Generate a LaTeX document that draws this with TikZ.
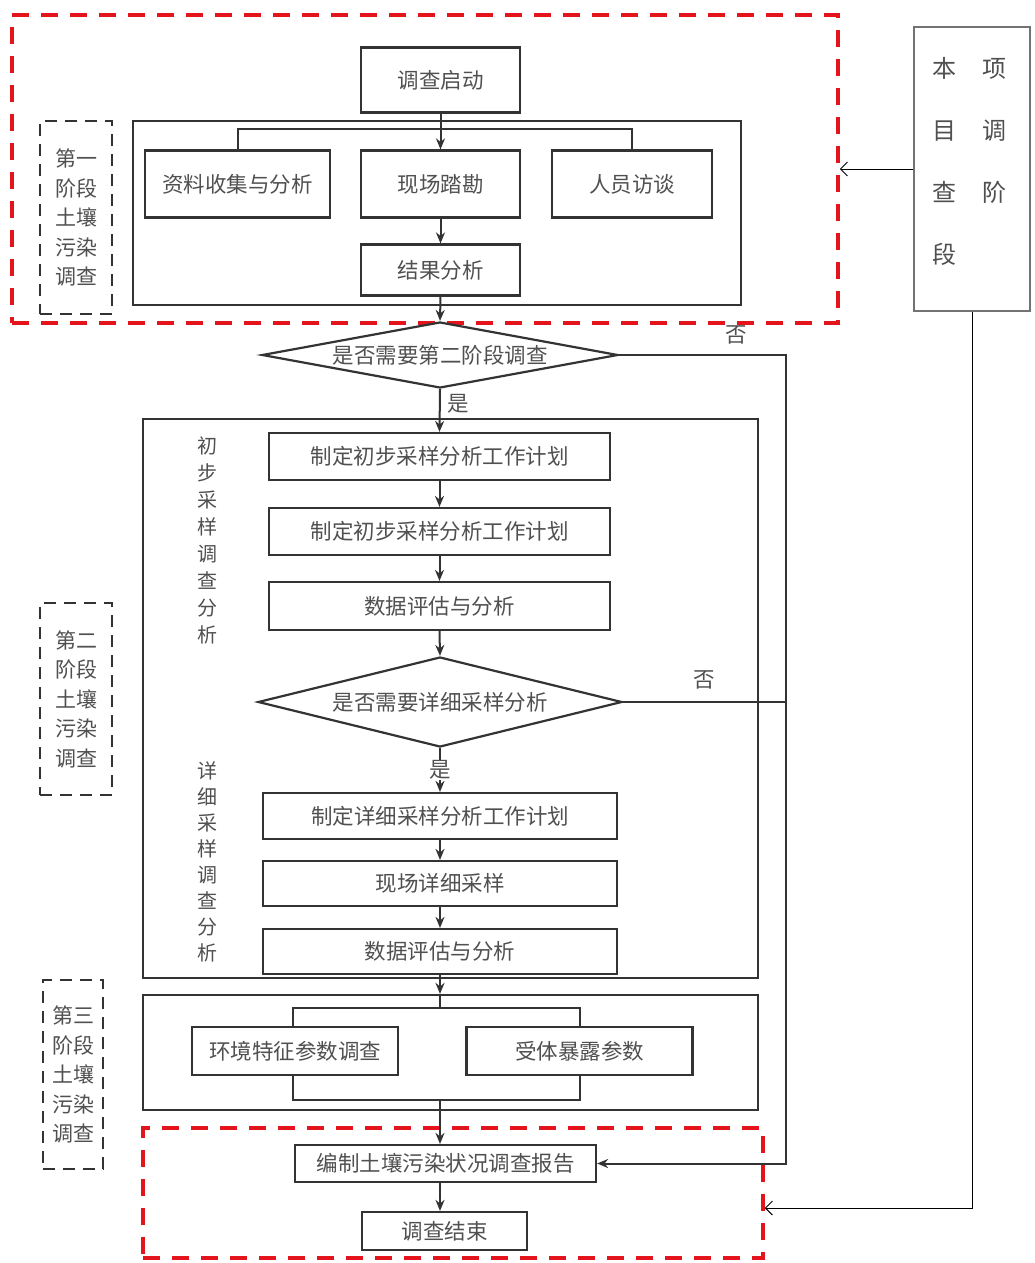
\documentclass[tikz,border=0pt]{standalone}
\usepackage{fontspec}
\setmainfont{Noto Sans CJK SC}
\usetikzlibrary{arrows.meta,shapes.geometric}
\definecolor{linec}{HTML}{333333}
\definecolor{txtc}{HTML}{505050}
\definecolor{redc}{HTML}{E3141B}
\newcommand\boxfont{\fontsize{21.5}{25}\selectfont}
\newcommand\labfont{\fontsize{21}{29.5}\selectfont}
\begin{document}
\begin{tikzpicture}[x=1pt,y=-1pt,
  fbox/.style={draw=linec, line width=2.2pt, fill=white, inner sep=0pt, text=txtc, font=\boxfont},
  framebox/.style={draw=linec, line width=2.2pt, inner sep=0pt},
  reddash/.style={draw=redc, line width=3.5pt, dash pattern=on 17pt off 12pt, inner sep=0pt},
  graydash/.style={draw=linec, line width=2.5pt, dash pattern=on 12pt off 8pt, inner sep=0pt, text=txtc, font=\labfont, align=center},
  dia/.style={diamond, draw=linec, line width=2.2pt, fill=white, inner sep=0pt, text=txtc, font=\boxfont},
  arr/.style={draw=linec, line width=2pt, -{Stealth[length=11pt,width=9pt]}},
  ln/.style={draw=linec, line width=2pt},
  thinarr/.style={draw=black, line width=1pt, -{Straight Barb[length=7pt,width=14pt]}},
  thinln/.style={draw=black, line width=1pt},
  yn/.style={text=txtc, font=\boxfont, inner sep=1pt},
  vtext/.style={text=txtc, align=center, inner sep=0pt}
]
\useasboundingbox[fill=white] (0,0) rectangle (1035,1263);

% red dashed regions
\node[reddash, minimum width=826pt, minimum height=308pt] (red1) at (425,169) {};
\node[reddash, minimum width=620pt, minimum height=130pt] (red2) at (453,1193) {};

% stage frames
\node[framebox, minimum width=608pt, minimum height=184pt] (s1) at (437,213) {};
\node[framebox, minimum width=615pt, minimum height=559pt] (s2) at (450.5,698.5) {};
\node[framebox, minimum width=615pt, minimum height=115pt] (s3) at (450.5,1052.5) {};

% stage labels
\node[graydash, minimum width=72pt, minimum height=193pt] (lab1) at (76,217.5) {第一\\阶段\\土壤\\污染\\调查};
\node[graydash, minimum width=72pt, minimum height=192pt] (lab2) at (76,699) {第二\\阶段\\土壤\\污染\\调查};
\node[graydash, minimum width=60pt, minimum height=189pt] (lab3) at (73,1074.5) {第三\\阶段\\土壤\\污染\\调查};

% vertical side texts
\node[vtext, font=\fontsize{20}{27}\selectfont] (vt1) at (207,540) {初\\步\\采\\样\\调\\查\\分\\析};
\node[vtext, font=\fontsize{20}{26.1}\selectfont] (vt2) at (207,862) {详\\细\\采\\样\\调\\查\\分\\析};

% stage 1
\node[fbox, minimum width=159pt, minimum height=65pt] (start) at (440.5,80) {调查启动};
\node[fbox, minimum width=185pt, minimum height=67pt] (ziliao) at (237.5,184) {资料收集与分析};
\node[fbox, minimum width=159pt, minimum height=67pt] (xianchang) at (440.5,184) {现场踏勘};
\node[fbox, minimum width=160pt, minimum height=67pt] (renyuan) at (632,184) {人员访谈};
\node[fbox, minimum width=159pt, minimum height=51pt] (jieguo) at (440.5,270) {结果分析};

% decision 1
\node[dia, minimum width=356pt, minimum height=66pt, aspect=5.4] (d1) at (440,355) {是否需要第二阶段调查};

% stage 2
\node[fbox, minimum width=341pt, minimum height=47pt] (A) at (439.5,456.5) {制定初步采样分析工作计划};
\node[fbox, minimum width=341pt, minimum height=47pt] (B) at (439.5,531.5) {制定初步采样分析工作计划};
\node[fbox, minimum width=341pt, minimum height=48pt] (C) at (439.5,606) {数据评估与分析};
\node[dia, minimum width=364pt, minimum height=90pt, aspect=4] (d2) at (440,702) {是否需要详细采样分析};
\node[fbox, minimum width=354pt, minimum height=46pt] (D) at (440,816) {制定详细采样分析工作计划};
\node[fbox, minimum width=354pt, minimum height=45pt] (E) at (440,883.5) {现场详细采样};
\node[fbox, minimum width=354pt, minimum height=45pt] (F) at (440,951.5) {数据评估与分析};

% stage 3
\node[framebox, minimum width=287pt, minimum height=92pt] (frame3) at (436.5,1054) {};
\node[fbox, minimum width=206pt, minimum height=48pt] (G) at (295,1051) {环境特征参数调查};
\node[fbox, minimum width=226pt, minimum height=48pt] (H) at (579.5,1051) {受体暴露参数};

% report
\node[fbox, minimum width=301pt, minimum height=37pt] (report) at (445.5,1163.5) {编制土壤污染状况调查报告};
\node[fbox, minimum width=165pt, minimum height=38pt] (endn) at (444.5,1231) {调查结束};

% project stage box
\node[draw=black!55, line width=1.5pt, minimum width=116pt, minimum height=284pt, inner sep=0pt] (proj) at (972,169) {};
\node[text=txtc, font=\fontsize{24}{62}\selectfont, align=left, inner sep=0pt] (projtxt) at (969,161.5) {本\hspace{26pt}项\\目\hspace{26pt}调\\查\hspace{26pt}阶\\段};

% connectors stage 1
\draw[arr] (start.south) -- (xianchang.north);
\draw[ln] (ziliao.north) -- ++(0,-20) -| (renyuan.north);
\draw[arr] (xianchang.south) -- (jieguo.north);
\draw[arr] (jieguo.south) -- (d1.north);

% decision 1
\draw[arr] (d1.south) -- (A.north);
\node[yn] (yes1) at (458,404) {是};
\coordinate (rloop) at (786,0);
\draw[arr] (d1.east) -- (d1.east -| rloop) -- (report.east -| rloop) -- (report.east);
\node[yn] (no1) at (736,335) {否};

% stage 2 flow
\draw[arr] (A.south) -- (B.north);
\draw[arr] (B.south) -- (C.north);
\draw[arr] (C.south) -- (d2.north);
\draw[arr] (d2.south) -- (D.north);
\node[yn, fill=white] (yes2) at (440,770) {是};
\draw[ln] (d2.east) -- (d2.east -| rloop);
\node[yn] (no2) at (704,680) {否};
\draw[arr] (D.south) -- (E.north);
\draw[arr] (E.south) -- (F.north);

% into stage 3 and report
\draw[arr] (F.south) -- (F.south |- s3.north);
\draw[ln] (F.south |- s3.north) -- (F.south |- frame3.north);
\draw[arr] (F.south |- frame3.south) -- (F.south |- report.north);
\draw[arr] (F.south |- report.south) -- (F.south |- endn.north);

% project stage arrows
\draw[thinarr] (proj.west) -- (proj.west -| red1.east);
\coordinate (c2) at (0,1208);
\draw[thinarr] (proj.south) |- (red2.east |- c2);
\end{tikzpicture}
\end{document}
